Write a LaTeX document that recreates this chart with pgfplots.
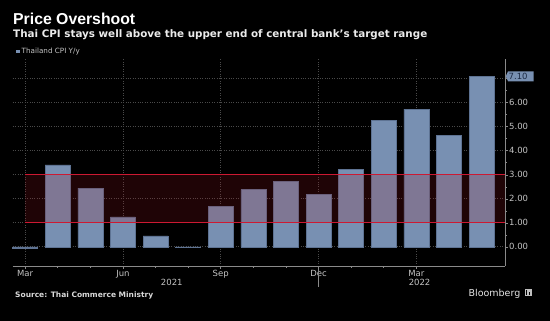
\documentclass[border=0pt]{standalone}
\usepackage{fontspec}
\setmainfont{DejaVu Sans}
\newfontfamily\lib{Liberation Sans}
\usepackage{pgfplots}
\pgfplotsset{compat=1.18}
\definecolor{barc}{HTML}{7890B2}
\definecolor{baredge}{HTML}{5E7393}
\definecolor{bandc}{RGB}{155,20,30}
\definecolor{redl}{RGB}{205,25,50}
\definecolor{gridc}{HTML}{4A4A4A}
\definecolor{axc}{HTML}{8A8A8A}
\definecolor{tickc}{HTML}{C4C4C4}
\definecolor{boxtext}{HTML}{1C2A44}
\begin{document}
\begin{tikzpicture}
\fill[black] (0pt,0pt) rectangle (550pt,321pt);
\node[anchor=base west, inner sep=0pt, text=white, font=\lib\bfseries\fontsize{15.8}{18}\selectfont] at (13pt,296pt) {Price Overshoot};
\node[anchor=base west, inner sep=0pt, text=white!92!black, font=\bfseries\fontsize{10.35}{12}\selectfont] at (13pt,283.5pt) {Thai CPI stays well above the upper end of central bank's target range};
\fill[barc] (16pt,267.8pt) rectangle (19.6pt,271.4pt);
\node[anchor=west, inner sep=0pt, text=tickc, font=\fontsize{7.2}{8}\selectfont] at (21.5pt,269.6pt) {Thailand CPI Y/y};
\node[anchor=base west, inner sep=0pt, text=white!85!black, font=\bfseries\fontsize{7.5}{9}\selectfont] at (15pt,23.7pt) {Source: Thai Commerce Ministry};
\node[anchor=base east, inner sep=0pt, text=white!90!black, font=\fontsize{9.5}{11}\selectfont] at (520.5pt,24.3pt) {Bloomberg};
\fill[white!75!black] (524.5pt,24.5pt) rectangle (531.5pt,31.5pt);
\fill[black] (525.8pt,25.5pt) rectangle (527.3pt,30.5pt);
\fill[black] (528.7pt,25.5pt) rectangle (530.2pt,29pt);
\begin{axis}[
  at={(12.7pt,55pt)}, anchor=south west,
  scale only axis, width=492.3pt, height=206.5pt,
  xmin=-0.38, xmax=14.72, ymin=-0.8, ymax=7.8,
  axis x line=bottom, axis y line=right,
  axis line style={-, axc, line width=0.6pt},
  clip=false,
  ybar, bar width=25pt,
  xtick={0,3,6,9,12}, xticklabels={Mar,Jun,Sep,Dec,Mar},
  minor x tick num=2,
  ytick={0,1,2,3,4,5,6,7},
  yticklabels={0.00,1.00,2.00,3.00,4.00,5.00,6.00,{}},
  minor y tick num=1,
  xmajorgrids, ymajorgrids,
  major grid style={gridc, dotted, line width=0.6pt},
  tick align=outside,
  major tick length=3pt, minor tick length=2pt,
  tick style={axc, line width=0.5pt},
  xticklabel style={text=tickc, font=\fontsize{8.5}{10}\selectfont, anchor=north, inner sep=0pt, yshift=-1pt},
  yticklabel style={text=tickc, font=\fontsize{8.5}{10}\selectfont, anchor=west, inner sep=0pt, xshift=1pt},
]
\addplot[fill=barc, draw=baredge, line width=0.5pt] coordinates {
 (0,-0.08) (1,3.41) (2,2.44) (3,1.25) (4,0.45) (5,-0.02) (6,1.68) (7,2.38)
 (8,2.71) (9,2.17) (10,3.23) (11,5.28) (12,5.73) (13,4.65) (14,7.10)};
\fill[bandc, fill opacity=0.2] (axis cs:0,1) rectangle (axis cs:14.72,3);
\draw[redl, line width=0.9pt] (axis cs:0,1) -- (axis cs:14.72,1);
\draw[redl, line width=0.9pt] (axis cs:0,3) -- (axis cs:14.72,3);
\draw[axc, line width=0.6pt] (axis cs:9,-0.8) -- ++(0pt,-21pt);
\node[text=tickc, font=\fontsize{8.5}{10}\selectfont, anchor=north, inner sep=0pt] at ([yshift=-12.5pt]axis cs:4.5,-0.8) {2021};
\node[text=tickc, font=\fontsize{8.5}{10}\selectfont, anchor=north, inner sep=0pt] at ([yshift=-12.5pt]axis cs:12.1,-0.8) {2022};
\fill[barc] ([xshift=0.8pt]axis cs:14.72,7.1) -- ([xshift=3pt,yshift=5pt]axis cs:14.72,7.1) -- ([xshift=28.5pt,yshift=5pt]axis cs:14.72,7.1) -- ([xshift=28.5pt,yshift=-5pt]axis cs:14.72,7.1) -- ([xshift=3pt,yshift=-5pt]axis cs:14.72,7.1) -- cycle;
\node[text=boxtext, font=\fontsize{8.5}{10}\selectfont, anchor=west, inner sep=0pt] at ([xshift=3.5pt]axis cs:14.72,7.1) {7.10};
\end{axis}
\pgfresetboundingbox
\path[use as bounding box] (0pt,0pt) rectangle (550pt,321pt);
\end{tikzpicture}
\end{document}
